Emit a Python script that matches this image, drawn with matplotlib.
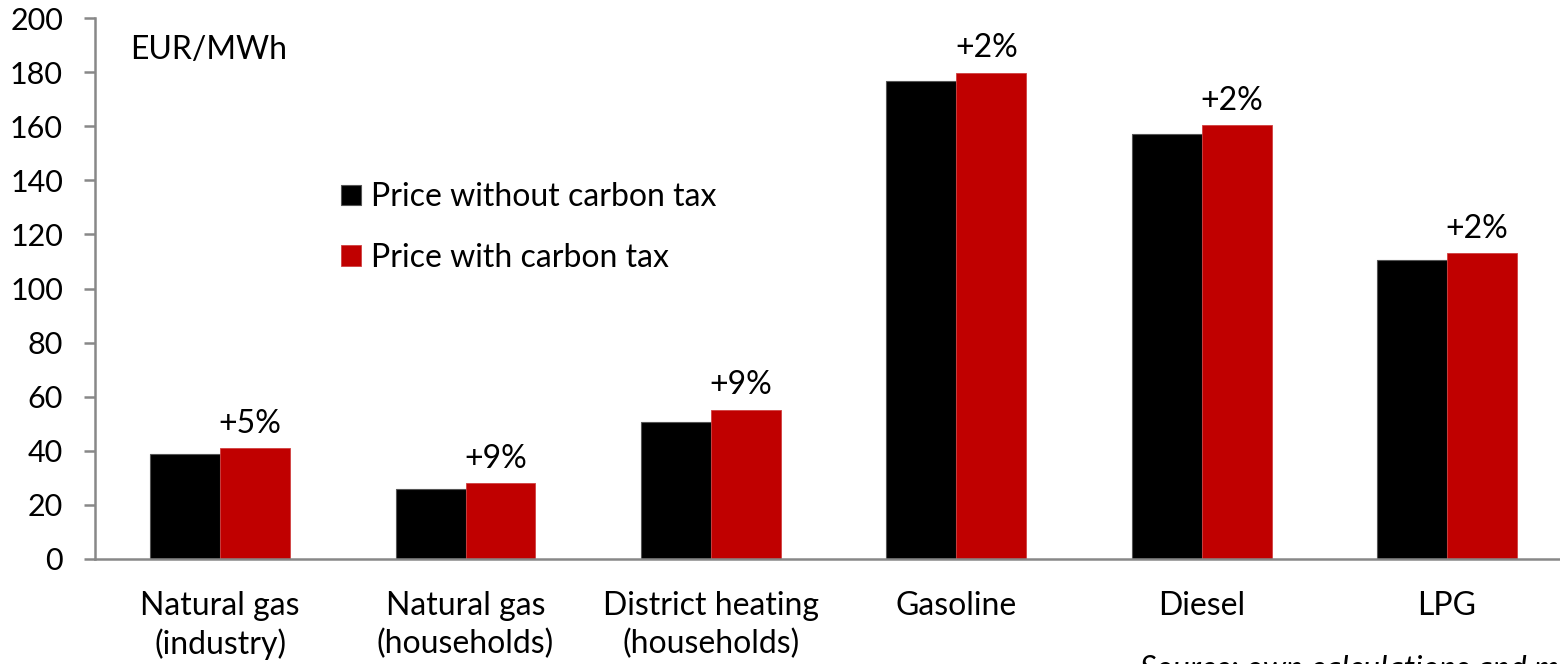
import matplotlib
matplotlib.use("Agg")
import matplotlib.pyplot as plt
import numpy as np

plt.rcParams['font.family'] = ['Lato', 'DejaVu Sans']

categories = ["Natural gas\n(industry)", "Natural gas\n(households)",
              "District heating\n(households)", "Gasoline", "Diesel", "LPG"]
price_without_tax = [38.8, 25.7, 50.8, 176.6, 157.1, 110.6]
price_with_tax = [40.9, 28.0, 55.2, 179.8, 160.3, 113.0]
yticks = [0, 20, 40, 60, 80, 100, 120, 140, 160, 180, 200]

BLACK = "#000000"
RED = "#C00000"
AXIS_GREY = "#888888"
FS = 23

fig = plt.figure(figsize=(15.6, 6.64), dpi=100)
ax = fig.add_axes([95 / 1560, 105 / 664, 1465 / 1560, 541 / 664])

x = np.arange(len(categories))
w = 0.285
ax.bar(x - w / 2, price_without_tax, w, color=BLACK, edgecolor="#555555",
       linewidth=0.8, label="Price without carbon tax", zorder=2)
ax.bar(x + w / 2, price_with_tax, w, color=RED, edgecolor="#D04040",
       linewidth=0.6, label="Price with carbon tax", zorder=2)

for xi, a, b in zip(x, price_without_tax, price_with_tax):
    pct = round((b / a - 1) * 100)
    ax.text(xi + w / 2 - 0.02, b + 3.5, f"+{pct}%", ha="center", va="bottom",
            fontsize=FS)

ax.set_xlim(-0.51, 5.46)
ax.set_ylim(0, 200)
ax.set_yticks(yticks)
ax.set_xticks(x)
ax.set_xticklabels(categories, fontsize=FS, linespacing=1.3)
ax.tick_params(axis="x", length=0, pad=23)
ax.tick_params(axis="y", length=8, width=1.8, color=AXIS_GREY, labelsize=22,
               pad=15, direction="out")

for s in ["top", "right"]:
    ax.spines[s].set_visible(False)
for s in ["left", "bottom"]:
    ax.spines[s].set_color(AXIS_GREY)
    ax.spines[s].set_linewidth(1.8)

ax.text(0.024, 0.94, "EUR/MWh", transform=ax.transAxes, fontsize=FS,
        ha="left", va="center")

leg = ax.legend(loc="center left", bbox_to_anchor=(0.168, 0.613), frameon=False,
                fontsize=FS, handlelength=0.62, handleheight=0.62,
                handletextpad=0.3, labelspacing=0.95, borderaxespad=0,
                borderpad=0)

fig.text(1140 / 1560, 9 / 664, "Source: own calculations and modelling",
         fontsize=FS, style="italic", ha="left", va="top")

fig.savefig("out.png", dpi=100)
